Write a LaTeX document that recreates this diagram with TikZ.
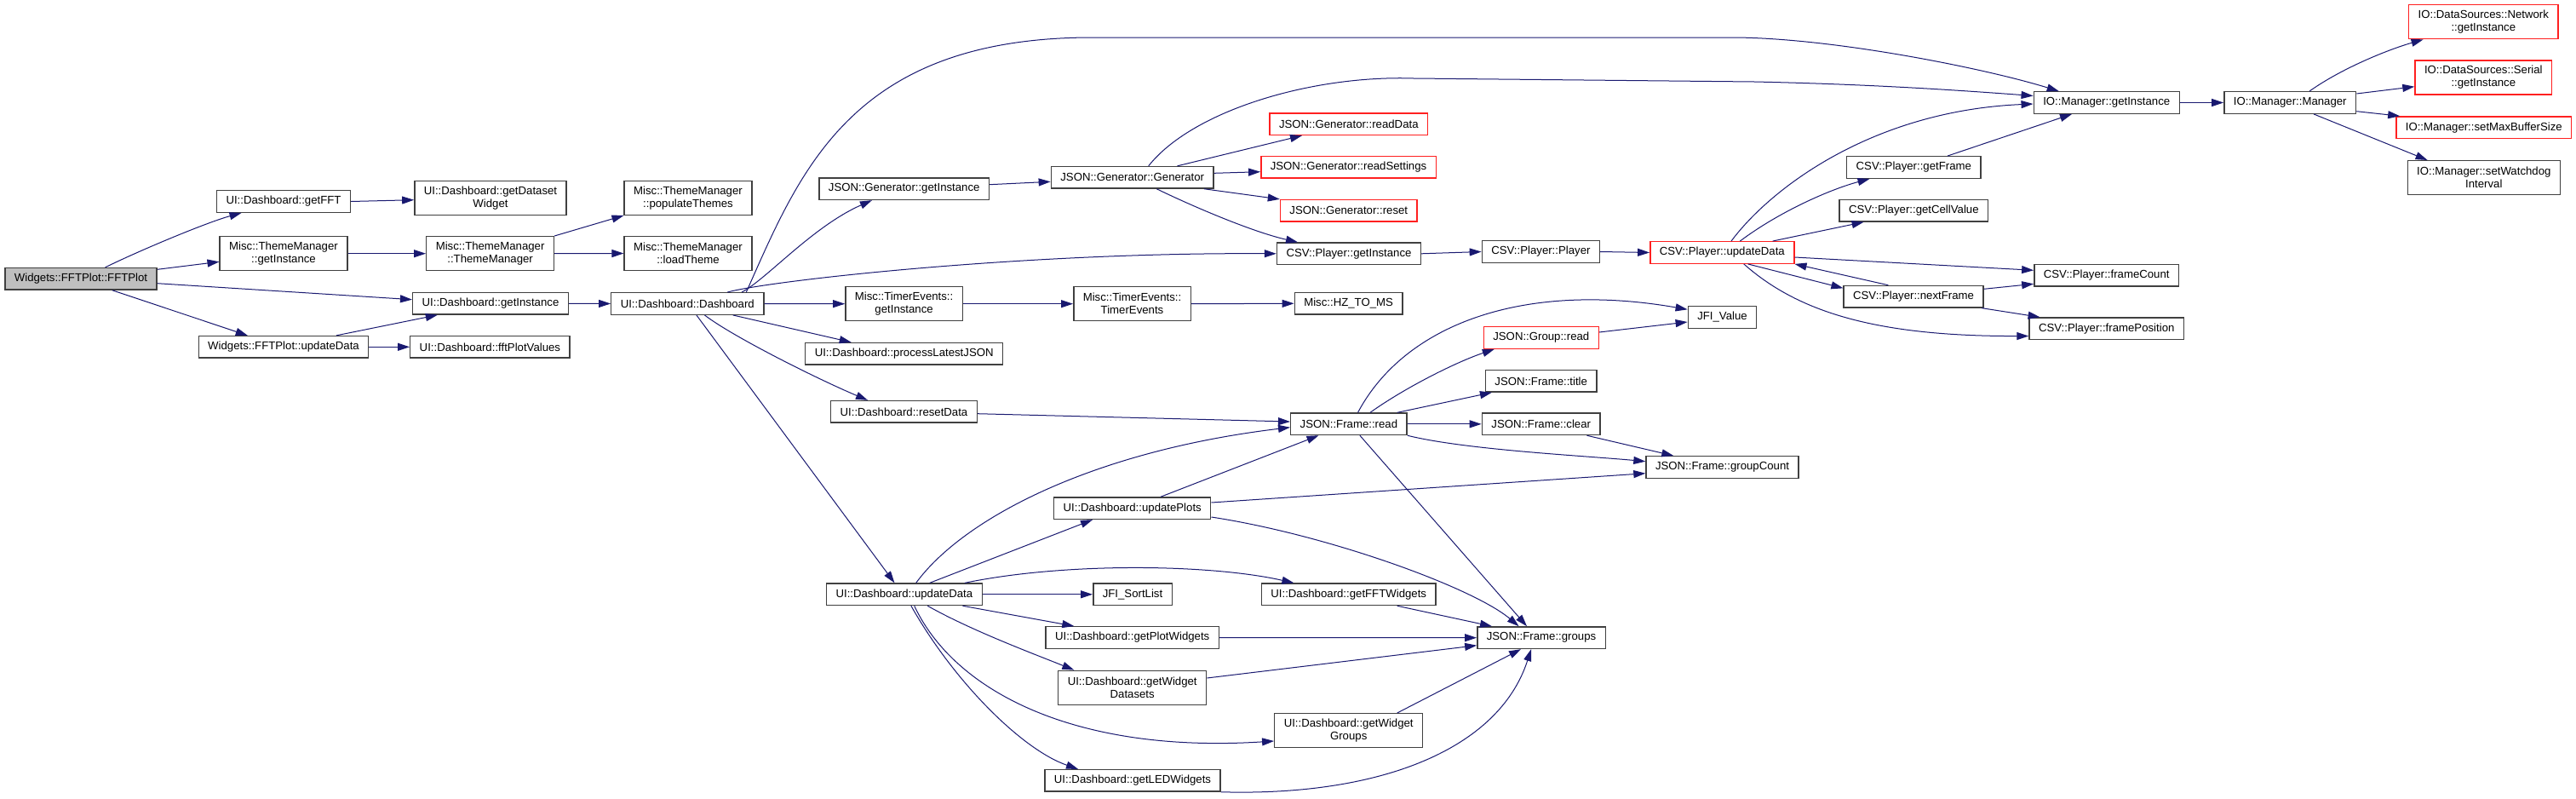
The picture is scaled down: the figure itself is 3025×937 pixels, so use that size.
\documentclass[tikz,border=0pt]{standalone}
\usepackage{fontspec}
\setmainfont{Liberation Sans}
\usepackage{xcolor}
\usetikzlibrary{arrows.meta}

\definecolor{edgeblue}{HTML}{191970}
\definecolor{boxline}{HTML}{404040}
\definecolor{truncred}{HTML}{FF2020}
\definecolor{callerfill}{HTML}{BFBFBF}

\begin{document}
\begin{tikzpicture}[
  x=1pt, y=-1pt,
  font=\fontsize{13.2}{15}\selectfont,
  fn/.style={draw=boxline, line width=1.4pt, fill=white, align=center,
             inner xsep=11pt, inner ysep=2pt, minimum height=25.5pt},
  fn2/.style={fn, minimum height=40pt},
  trunc/.style={draw=truncred},
  arr/.style={-{Triangle[length=14pt,width=9pt]}, line width=1pt, draw=edgeblue}
]
\useasboundingbox (0,0) rectangle (3025,937);

\node[fn, fill=callerfill] (fftplot) at (95,327.3) {Widgets::FFTPlot::FFTPlot};
\node[fn] (getfft) at (333,236.5) {UI::Dashboard::getFFT};
\node[fn2] (dsetwidget) at (576,232.7) {UI::Dashboard::getDataset\\Widget};
\node[fn2] (tmgetinst) at (333,297.7) {Misc::ThemeManager\\::getInstance};
\node[fn2] (tmctor) at (575.6,297.7) {Misc::ThemeManager\\::ThemeManager};
\node[fn] (uigetinst) at (576,356.3) {UI::Dashboard::getInstance};
\node[fn] (fftupdate) at (333,407.3) {Widgets::FFTPlot::updateData};
\node[fn] (fftvalues) at (575.4,407.3) {UI::Dashboard::fftPlotValues};
\node[fn2] (populate) at (808,232.3) {Misc::ThemeManager\\::populateThemes};
\node[fn2] (loadtheme) at (808,297.5) {Misc::ThemeManager\\::loadTheme};
\node[fn] (dashctor) at (807.3,356.5) {UI::Dashboard::Dashboard};
\node[fn] (gengetinst) at (1061.7,221.7) {JSON::Generator::getInstance};
\node[fn] (genctor) at (1329.7,208.3) {JSON::Generator::Generator};
\node[fn2] (tegetinst) at (1061.6,356.7) {Misc::TimerEvents::\\getInstance};
\node[fn2] (tector) at (1329.5,356.7) {Misc::TimerEvents::\\TimerEvents};
\node[fn] (latestjson) at (1061.7,415.3) {UI::Dashboard::processLatestJSON};
\node[fn] (resetdata) at (1061.5,483.3) {UI::Dashboard::resetData};
\node[fn] (updateplots) at (1329.7,596.7) {UI::Dashboard::updatePlots};
\node[fn] (dashupdate) at (1061.9,697.8) {UI::Dashboard::updateData};
\node[fn] (sortlist) at (1330,697.8) {JFI\_SortList};
\node[fn] (plotwidgets) at (1329.7,748.5) {UI::Dashboard::getPlotWidgets};
\node[fn2] (wdatasets) at (1329.7,807.3) {UI::Dashboard::getWidget\\Datasets};
\node[fn] (ledwidgets) at (1330,916.3) {UI::Dashboard::getLEDWidgets};
\node[fn] (fftwidgets) at (1583.7,697.8) {UI::Dashboard::getFFTWidgets};
\node[fn2] (wgroups) at (1583.7,857.7) {UI::Dashboard::getWidget\\Groups};
\node[fn, trunc] (readdata) at (1583.8,145.7) {JSON::Generator::readData};
\node[fn, trunc] (readsettings) at (1583.5,196.3) {JSON::Generator::readSettings};
\node[fn, trunc] (genreset) at (1583.8,247.3) {JSON::Generator::reset};
\node[fn] (csvgetinst) at (1584,297.8) {CSV::Player::getInstance};
\node[fn] (hztoms) at (1583.6,356.3) {Misc::HZ\_TO\_MS};
\node[fn] (frameread) at (1583.9,497.8) {JSON::Frame::read};
\node[fn] (player) at (1809.4,295.5) {CSV::Player::Player};
\node[fn, trunc] (groupread) at (1809.8,396.5) {JSON::Group::read};
\node[fn] (frametitle) at (1809.7,447.3) {JSON::Frame::title};
\node[fn] (frameclear) at (1809.7,497.8) {JSON::Frame::clear};
\node[fn] (groups) at (1810,748.7) {JSON::Frame::groups};
\node[fn, trunc] (csvupdate) at (2022.3,296.5) {CSV::Player::updateData};
\node[fn] (jfivalue) at (2022.5,372.5) {JFI\_Value};
\node[fn] (groupcount) at (2022.5,548.5) {JSON::Frame::groupCount};
\node[fn] (getframe) at (2247.3,196.5) {CSV::Player::getFrame};
\node[fn] (cellvalue) at (2247.3,247.2) {CSV::Player::getCellValue};
\node[fn] (nextframe) at (2247,348.2) {CSV::Player::nextFrame};
\node[fn] (iogetinst) at (2473.7,120.5) {IO::Manager::getInstance};
\node[fn] (framecount) at (2473.7,323.2) {CSV::Player::frameCount};
\node[fn] (framepos) at (2473.7,385.8) {CSV::Player::framePosition};
\node[fn] (iomanager) at (2689.2,120.5) {IO::Manager::Manager};
\node[fn2, trunc] (network) at (2916.3,25.7) {IO::DataSources::Network\\::getInstance};
\node[fn2, trunc] (serial) at (2916.3,91) {IO::DataSources::Serial\\::getInstance};
\node[fn, trunc] (maxbuffer) at (2916.8,149.7) {IO::Manager::setMaxBufferSize};
\node[fn2] (watchdog) at (2916.8,208.7) {IO::Manager::setWatchdog\\Interval};

\draw[arr] ([xshift=28.6pt]fftplot.north) .. controls (164,294) and (243,261) .. ([xshift=-49.5pt]getfft.south);
\draw[arr] ([yshift=11pt]fftplot.east) -- ([yshift=-9.6pt]tmgetinst.west);
\draw[arr] ([yshift=-5.4pt]fftplot.east) -- ([yshift=4.6pt]uigetinst.west);
\draw[arr] ([xshift=36.8pt]fftplot.south) -- ([xshift=-42.2pt]fftupdate.north);
\draw[arr] (getfft.east) -- ([yshift=-2pt]dsetwidget.west);
\draw[arr] (tmgetinst.east) -- (tmctor.west);
\draw[arr] (tmctor.north east) -- (populate.south west);
\draw[arr] (tmctor.east) -- (loadtheme.west);
\draw[arr] ([xshift=62pt]fftupdate.north) -- ([xshift=-62.2pt]uigetinst.south);
\draw[arr] (fftupdate.east) -- (fftvalues.west);
\draw[arr] (uigetinst.east) -- (dashctor.west);

\draw[arr] ([xshift=69pt]dashctor.north) .. controls (940,200) and (1000,44) .. (1283,44) -- (2033,44)
  .. controls (2150,44) and (2330,80) .. ([xshift=-56pt]iogetinst.north);
\draw[arr] ([xshift=63.7pt]dashctor.north) .. controls (900,328) and (954,266) .. ([xshift=-37.8pt]gengetinst.south);
\draw[arr] ([xshift=47pt]dashctor.north) .. controls (900,330) and (1200,296) .. (csvgetinst.west);
\draw[arr] (dashctor.east) -- (tegetinst.west);
\draw[arr] ([xshift=53.4pt]dashctor.south) -- ([xshift=-62pt]latestjson.north);
\draw[arr] ([xshift=20.2pt]dashctor.south) .. controls (860,395) and (960,445) .. ([xshift=-42.5pt]resetdata.north);
\draw[arr] ([xshift=10.6pt]dashctor.south) -- ([xshift=-11.4pt]dashupdate.north);

\draw[arr] ([yshift=5pt]gengetinst.east) -- ([yshift=-5pt]genctor.west);
\draw[arr] ([xshift=19pt]genctor.north) .. controls (1400,130) and (1540,88) .. (1660,92) -- (2060,96)
  .. controls (2200,99) and (2300,106) .. ([yshift=8pt]iogetinst.west);
\draw[arr] ([xshift=52.8pt]genctor.north) -- ([xshift=-54.8pt]readdata.south);
\draw[arr] ([yshift=5pt]genctor.east) -- ([yshift=-5.4pt]readsettings.west);
\draw[arr] ([xshift=84.3pt]genctor.south) -- (genreset.north west);
\draw[arr] ([xshift=28.6pt]genctor.south) .. controls (1400,242) and (1470,272) .. ([xshift=-60pt]csvgetinst.north);
\draw[arr] (tegetinst.east) -- (tector.west);
\draw[arr] (tector.east) -- (hztoms.west);

\draw[arr] ([yshift=-2.4pt]resetdata.east) -- ([yshift=2.8pt]frameread.west);
\draw[arr] ([xshift=13.8pt]dashupdate.north) .. controls (1130,610) and (1280,530) .. ([yshift=-3.9pt]frameread.west);
\draw[arr] ([xshift=29.8pt]dashupdate.north) -- ([xshift=-46.7pt]updateplots.south);
\draw[arr] ([xshift=33.3pt]updateplots.north) -- ([xshift=-35.4pt]frameread.south);
\draw[arr] ([yshift=6.7pt]updateplots.east) -- ([yshift=-7.2pt]groupcount.west);
\draw[arr] ([yshift=-10.3pt]updateplots.east) .. controls (1560,628) and (1730,690) .. ([xshift=-26.4pt]groups.north);
\draw[arr] ([xshift=71pt]dashupdate.north) .. controls (1250,660) and (1420,662) .. ([xshift=-64.3pt]fftwidgets.north);
\draw[arr] (dashupdate.east) -- (sortlist.west);
\draw[arr] ([xshift=68.6pt]dashupdate.south) -- ([xshift=-68.4pt]plotwidgets.north);
\draw[arr] ([xshift=27.4pt]dashupdate.south) .. controls (1140,740) and (1215,768) .. ([xshift=-68.4pt]wdatasets.north);
\draw[arr] ([xshift=11.8pt]dashupdate.south) .. controls (1120,810) and (1260,885) .. ([yshift=-12.3pt]wgroups.west);
\draw[arr] ([xshift=8pt]dashupdate.south) .. controls (1120,800) and (1200,880) .. ([xshift=-64pt]ledwidgets.north);

\draw[arr] ([xshift=57pt]fftwidgets.south) -- ([xshift=-58pt]groups.north);
\draw[arr] (plotwidgets.east) -- (groups.west);
\draw[arr] ([yshift=11.3pt]wdatasets.east) -- ([yshift=-9pt]groups.west);
\draw[arr] ([xshift=57pt]wgroups.north) -- ([xshift=-24pt]groups.south);
\draw[arr] (ledwidgets.south east) .. controls (1620,935) and (1760,880) .. ([xshift=-12pt]groups.south);

\draw[arr] ([xshift=10.6pt]frameread.north) .. controls (1650,380) and (1790,330) .. ([yshift=9.2pt]jfivalue.west);
\draw[arr] ([xshift=25pt]frameread.north) .. controls (1650,455) and (1710,425) .. ([xshift=-55pt]groupread.south);
\draw[arr] ([xshift=56.7pt]frameread.north) -- ([xshift=-57.8pt]frametitle.south);
\draw[arr] (frameread.east) -- (frameclear.west);
\draw[arr] (frameread.south east) .. controls (1720,528) and (1860,535) .. ([yshift=6.8pt]groupcount.west);
\draw[arr] ([xshift=13pt]frameread.south) -- ([xshift=-17pt]groups.north);
\draw[arr] ([xshift=53.8pt]frameclear.south) -- ([xshift=-57.2pt]groupcount.north);
\draw[arr] ([yshift=6.5pt]groupread.east) -- ([yshift=-5.5pt]jfivalue.west);

\draw[arr] (csvgetinst.east) -- (player.west);
\draw[arr] (player.east) -- (csvupdate.west);
\draw[arr] ([xshift=10.7pt]csvupdate.north) .. controls (2080,220) and (2200,130) .. ([yshift=-1.5pt]iogetinst.west);
\draw[arr] ([xshift=21pt]csvupdate.north) .. controls (2090,248) and (2150,222) .. ([xshift=-51.8pt]getframe.south);
\draw[arr] ([xshift=59.3pt]csvupdate.north) -- ([xshift=-58.7pt]cellvalue.south);
\draw[arr] ([yshift=-5.5pt]csvupdate.east) -- ([yshift=5.9pt]framecount.west);
\draw[arr] ([xshift=30.3pt]csvupdate.south) -- ([yshift=9.9pt]nextframe.west);
\draw[arr] ([xshift=-29.6pt]nextframe.north) -- (csvupdate.south east);
\draw[arr] ([xshift=25.5pt]csvupdate.south) .. controls (2110,365) and (2200,395) .. ([yshift=-8.7pt]framepos.west);
\draw[arr] ([xshift=39.7pt]getframe.north) -- ([xshift=-40.7pt]iogetinst.south);
\draw[arr] ([yshift=8.9pt]nextframe.east) -- ([yshift=-10.1pt]framecount.west);
\draw[arr] ([xshift=-2.5pt]nextframe.south east) -- ([xshift=13.3pt]framepos.north west);

\draw[arr] (iogetinst.east) -- (iomanager.west);
\draw[arr] ([xshift=22.8pt]iomanager.north) .. controls (2750,80) and (2805,58) .. ([xshift=-70.7pt]network.south);
\draw[arr] ([yshift=10.5pt]iomanager.east) -- ([yshift=-10.7pt]serial.west);
\draw[arr] ([yshift=-10.2pt]iomanager.east) -- ([xshift=5pt]maxbuffer.north west);
\draw[arr] ([xshift=27.8pt]iomanager.south) -- ([xshift=-66.2pt]watchdog.north);
\end{tikzpicture}
\end{document}
